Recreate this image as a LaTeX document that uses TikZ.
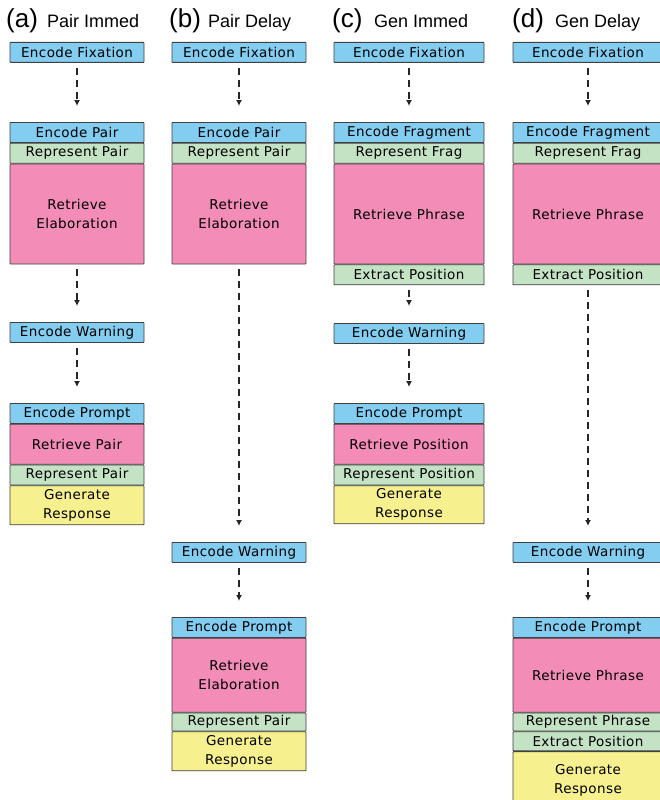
\documentclass[tikz,border=0pt]{standalone}
\usepackage{fontspec}
\setmainfont{DejaVu Sans}
\newfontfamily\stagefont[LetterSpace=3]{DejaVu Sans}
\newfontfamily\titlefont{Liberation Sans}
\usetikzlibrary{positioning,arrows.meta}
\definecolor{encblue}{HTML}{82CDF0}
\definecolor{repgreen}{HTML}{C4E2C4}
\definecolor{retpink}{HTML}{F38DB8}
\definecolor{genyellow}{HTML}{F7F08E}
\def\stagew{134pt}
\begin{document}
\begin{tikzpicture}[x=1pt,y=-1pt,
    stage/.style={draw=black!75,line width=0.8pt,rounded corners=0.6pt,inner sep=0pt,
      align=center,minimum width=\stagew,minimum height=20pt,
      font=\stagefont\fontsize{13.5}{19}\selectfont},
    enc/.style={stage,fill=encblue},
    rep/.style={stage,fill=repgreen},
    ret/.style={stage,fill=retpink,minimum height=#1},
    ret/.default=100pt,
    gen/.style={stage,fill=genyellow,minimum height=#1},
    gen/.default=39pt,
    flow/.style={draw=black!85,line width=1.3pt,dash pattern=on 7pt off 5pt,
      shorten <=5pt,shorten >=16pt,-{Latex[length=6pt,width=6pt]}},
    tag/.style={anchor=base west,inner sep=0pt,font=\titlefont\fontsize{26}{26}\selectfont},
    cond/.style={anchor=base west,inner sep=0pt,font=\titlefont\fontsize{18}{18}\selectfont}]
    \useasboundingbox (0,0) rectangle (660,800);
    \clip (0,0) rectangle (660,800);
    \fill[white] (0,0) rectangle (660,800);

    % (a) Pair Immed
    \node[tag] (ta) at (6,28) {(a)};
    \node[cond] (ca) at (47,28) {Pair Immed};
    \node[enc,anchor=north] (afix) at (77,42) {Encode Fixation};
    \node[enc,anchor=north] (apair) at (77,122) {Encode Pair};
    \node[rep,below=0pt of apair] (arep) {Represent Pair};
    \node[ret,below=0pt of arep] (aret) {Retrieve\\Elaboration};
    \node[enc,anchor=north] (awarn) at (77,322) {Encode Warning};
    \node[enc,anchor=north] (aprompt) at (77,403) {Encode Prompt};
    \node[ret=40pt,below=0pt of aprompt] (aretp) {Retrieve Pair};
    \node[rep,below=0pt of aretp] (arepp) {Represent Pair};
    \node[gen,below=0pt of arepp] (agen) {Generate\\Response};
    \draw[flow] (afix) -- (apair);
    \draw[flow] (aret) -- (awarn);
    \draw[flow] (awarn) -- (aprompt);

    % (b) Pair Delay
    \node[tag] (tb) at (169,28) {(b)};
    \node[cond] (cb) at (208,28) {Pair Delay};
    \node[enc,anchor=north] (bfix) at (239,42) {Encode Fixation};
    \node[enc,anchor=north] (bpair) at (239,122) {Encode Pair};
    \node[rep,below=0pt of bpair] (brep) {Represent Pair};
    \node[ret,below=0pt of brep] (bret) {Retrieve\\Elaboration};
    \node[enc,anchor=north] (bwarn) at (239,542) {Encode Warning};
    \node[enc,anchor=north] (bprompt) at (239,617) {Encode Prompt};
    \node[ret=74pt,below=0pt of bprompt] (bretp) {Retrieve\\Elaboration};
    \node[rep,minimum height=18pt,below=0pt of bretp] (brepp) {Represent Pair};
    \node[gen,below=0pt of brepp] (bgen) {Generate\\Response};
    \draw[flow] (bfix) -- (bpair);
    \draw[flow] (bret) -- (bwarn);
    \draw[flow] (bwarn) -- (bprompt);

    % (c) Gen Immed
    \def\stagew{150pt}
    \node[tag] (tc) at (332,28) {(c)};
    \node[cond] (cc) at (374,28) {Gen Immed};
    \node[enc,anchor=north] (cfix) at (409,42) {Encode Fixation};
    \node[enc,anchor=north] (cfrag) at (409,122) {Encode Fragment};
    \node[rep,below=0pt of cfrag] (crep) {Represent Frag};
    \node[ret,below=0pt of crep] (cret) {Retrieve Phrase};
    \node[rep,below=0pt of cret] (cext) {Extract Position};
    \node[enc,anchor=north] (cwarn) at (409,323) {Encode Warning};
    \node[enc,anchor=north] (cprompt) at (409,403) {Encode Prompt};
    \node[ret=40pt,below=0pt of cprompt] (cretp) {Retrieve Position};
    \node[rep,below=0pt of cretp] (crepp) {Represent Position};
    \node[gen=38pt,below=0pt of crepp] (cgen) {Generate\\Response};
    \draw[flow] (cfix) -- (cfrag);
    \draw[flow,shorten >=17pt] (cext) -- (cwarn);
    \draw[flow] (cwarn) -- (cprompt);

    % (d) Gen Delay
    \node[tag] (td) at (512,28) {(d)};
    \node[cond] (cd) at (555,28) {Gen Delay};
    \node[enc,anchor=north] (dfix) at (588,42) {Encode Fixation};
    \node[enc,anchor=north] (dfrag) at (588,122) {Encode Fragment};
    \node[rep,below=0pt of dfrag] (drep) {Represent Frag};
    \node[ret,below=0pt of drep] (dret) {Retrieve Phrase};
    \node[rep,below=0pt of dret] (dext) {Extract Position};
    \node[enc,anchor=north] (dwarn) at (588,542) {Encode Warning};
    \node[enc,anchor=north] (dprompt) at (588,617) {Encode Prompt};
    \node[ret=74pt,below=0pt of dprompt] (dretp) {Retrieve Phrase};
    \node[rep,minimum height=18pt,below=0pt of dretp] (drepp) {Represent Phrase};
    \node[rep,minimum height=19pt,below=0pt of drepp] (dextp) {Extract Position};
    \node[gen=58pt,below=0pt of dextp] (dgen) {Generate\\Response};
    \draw[flow] (dfix) -- (dfrag);
    \draw[flow] (dext) -- (dwarn);
    \draw[flow] (dwarn) -- (dprompt);
\end{tikzpicture}
\end{document}
